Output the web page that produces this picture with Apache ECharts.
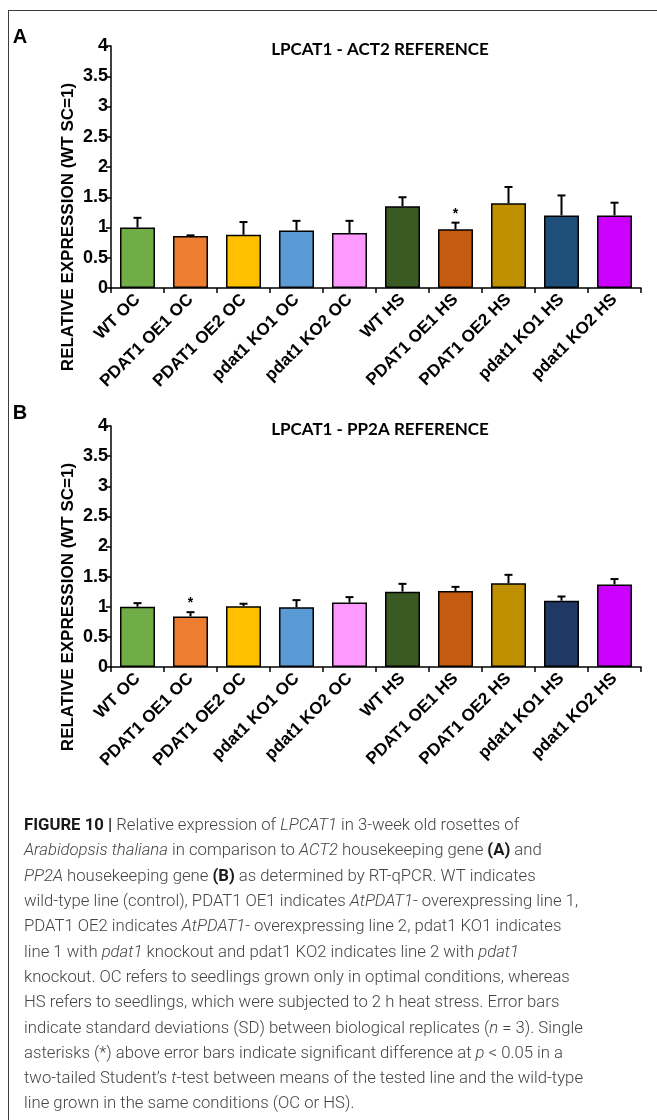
<!DOCTYPE html>
<html>
<head>
<meta charset="utf-8">
<script src="https://cdn.jsdelivr.net/npm/echarts@6/dist/echarts.min.js"></script>
<style>
  html, body { margin: 0; padding: 0; background: #fff; }
  #chart { width: 657px; height: 1120px; }
  #frame { position: absolute; left: 8px; top: 10px; right: 0; bottom: 0;
           border-left: 1.5px solid #3c3c3c; border-top: 1.5px solid #3c3c3c; pointer-events: none; }
</style>
</head>
<body>
<div id="chart"></div>
<div id="frame"></div>
<script>
// Plant lines under optimal conditions (OC) and heat stress (HS)
const categories = [
  'WT OC', 'PDAT1 OE1 OC', 'PDAT1 OE2 OC', 'pdat1 KO1 OC', 'pdat1 KO2 OC',
  'WT HS', 'PDAT1 OE1 HS', 'PDAT1 OE2 HS', 'pdat1 KO1 HS', 'pdat1 KO2 HS'
];

// Relative LPCAT1 expression, ACT2 as reference gene (mean and SD)
const act2Mean = [1.00, 0.86, 0.88, 0.95, 0.91, 1.35, 0.97, 1.40, 1.20, 1.20];
const act2Sd   = [0.16, 0.01, 0.21, 0.16, 0.20, 0.15, 0.11, 0.27, 0.33, 0.21];
const act2Sig  = [false, false, false, false, false, false, true, false, false, false];

// Relative LPCAT1 expression, PP2A as reference gene (mean and SD)
const pp2aMean = [1.00, 0.84, 1.01, 0.99, 1.07, 1.25, 1.26, 1.39, 1.10, 1.37];
const pp2aSd   = [0.06, 0.07, 0.04, 0.12, 0.09, 0.13, 0.07, 0.14, 0.07, 0.09];
const pp2aSig  = [false, true, false, false, false, false, false, false, false, false];

// Value axis range
const yMin = 0, yMax = 4, yStep = 0.5;

// Bar fill colours per line
const colorsA = ['#70AD47', '#ED7D31', '#FFC000', '#5B9BD5', '#FF99FF',
                 '#3A5A24', '#C55A11', '#BF9000', '#1F4E79', '#CC00FF'];
const colorsB = ['#70AD47', '#ED7D31', '#FFC000', '#5B9BD5', '#FF99FF',
                 '#3A5A24', '#C55A11', '#BF9000', '#203864', '#CC00FF'];

const AXIS_FONT = '"Liberation Sans", Arial, sans-serif';

function xAxisFor(gridIndex) {
  return {
    type: 'category', gridIndex, data: categories,
    axisLine: { show: true, lineStyle: { color: '#000', width: 1.5 } },
    axisTick: { show: true, length: 5, lineStyle: { color: '#000', width: 1.5 } },
    axisLabel: { interval: 0, rotate: 45, margin: 9, color: '#000',
                 fontFamily: AXIS_FONT, fontWeight: 'bold', fontSize: 17 },
    splitLine: { show: false }
  };
}

function yAxisFor(gridIndex) {
  return {
    type: 'value', gridIndex, min: yMin, max: yMax, interval: yStep,
    axisLine: { show: true, lineStyle: { color: '#000', width: 1.5 } },
    axisTick: { show: true, length: 5, lineStyle: { color: '#000', width: 1.5 } },
    axisLabel: { margin: 3, color: '#000', fontFamily: AXIS_FONT, fontWeight: 'bold', fontSize: 18 },
    splitLine: { show: false }
  };
}

function barSeries(idx, means, colors) {
  return {
    type: 'bar', xAxisIndex: idx, yAxisIndex: idx, barWidth: '66%',
    data: means.map((v, i) => ({ value: v, itemStyle: { color: colors[i] } })),
    itemStyle: { borderColor: '#000', borderWidth: 1.5 },
    z: 2
  };
}

// Error bars (upper half) with an optional significance asterisk
function errorSeries(idx, means, sds, sig) {
  return {
    type: 'custom', xAxisIndex: idx, yAxisIndex: idx, z: 5,
    data: means.map((m, i) => [i, m, m + sds[i], sig[i] ? 1 : 0]),
    encode: { x: 0, y: [1, 2] },
    renderItem(params, api) {
      const i = api.value(0);
      const base = api.coord([i, api.value(1)]);
      const top = api.coord([i, api.value(2)]);
      const cap = 4;
      const children = [
        { type: 'line', shape: { x1: base[0], y1: base[1], x2: top[0], y2: top[1] },
          style: { stroke: '#000', lineWidth: 2 } },
        { type: 'line', shape: { x1: top[0] - cap, y1: top[1], x2: top[0] + cap, y2: top[1] },
          style: { stroke: '#000', lineWidth: 2 } }
      ];
      if (api.value(3)) {
        children.push({ type: 'text', x: top[0], y: top[1] - 2,
          style: { text: '*', fill: '#000', font: 'bold 14px ' + AXIS_FONT,
                   align: 'center', verticalAlign: 'bottom',
                   textAlign: 'center', textVerticalAlign: 'bottom' } });
      }
      return { type: 'group', children };
    }
  };
}

function label(text, x, y, font, extra) {
  return Object.assign({
    type: 'text', x, y, silent: true,
    style: { text, font, fill: '#000', align: 'center', verticalAlign: 'middle',
             textAlign: 'center', textVerticalAlign: 'middle' }
  }, extra || {});
}

const yName = 'RELATIVE EXPRESSION (WT SC=1)';
const yNameFont = 'bold 17px ' + AXIS_FONT;
const titleFont = 'bold 17px Lato, "Liberation Sans", sans-serif';
const letterFont = 'bold 20px ' + AXIS_FONT;

// Figure legend text, one entry per printed line
const captionLines = [
  '{b|FIGURE 10 |} Relative expression of {i|LPCAT1} in 3-week old rosettes of',
  '{i|Arabidopsis thaliana} in comparison to {i|ACT2} housekeeping gene {b|(A)} and',
  '{i|PP2A} housekeeping gene {b|(B)} as determined by RT-qPCR. WT indicates',
  'wild-type line (control), PDAT1 OE1 indicates {i|AtPDAT1}- overexpressing line 1,',
  'PDAT1 OE2 indicates {i|AtPDAT1}- overexpressing line 2, pdat1 KO1 indicates',
  'line 1 with {i|pdat1} knockout and pdat1 KO2 indicates line 2 with {i|pdat1}',
  'knockout. OC refers to seedlings grown only in optimal conditions, whereas',
  'HS refers to seedlings, which were subjected to 2 h heat stress. Error bars',
  'indicate standard deviations (SD) between biological replicates ({i|n} = 3). Single',
  'asterisks (*) above error bars indicate significant difference at {i|p} < 0.05 in a',
  'two-tailed Student\u2019s {i|t}-test between means of the tested line and the wild-type',
  'line grown in the same conditions (OC or HS).'
];

const captionFont = 'Roboto, "Liberation Sans", sans-serif';
const capSize = 16.7;
const captionElems = captionLines.map((t, k) => ({
  type: 'text', x: 24, y: 826 + k * 25.3, silent: true,
  style: {
    text: t, fill: '#444', fontFamily: captionFont, fontSize: capSize, fontWeight: 300,
    align: 'left', verticalAlign: 'middle', textAlign: 'left', textVerticalAlign: 'middle',
    rich: {
      b: { fill: '#1a1a1a', fontFamily: captionFont, fontSize: capSize, fontWeight: 'bold' },
      i: { fill: '#444', fontFamily: captionFont, fontSize: capSize, fontWeight: 300, fontStyle: 'italic' }
    }
  }
}));

const chart = echarts.init(document.getElementById('chart'), null, { renderer: 'canvas' });
chart.setOption({
  animation: false,
  backgroundColor: '#fff',
  grid: [
    { left: 111, right: 16, top: 46, height: 242 },
    { left: 111, right: 16, top: 426, height: 241 }
  ],
  xAxis: [xAxisFor(0), xAxisFor(1)],
  yAxis: [yAxisFor(0), yAxisFor(1)],
  series: [
    barSeries(0, act2Mean, colorsA),
    errorSeries(0, act2Mean, act2Sd, act2Sig),
    barSeries(1, pp2aMean, colorsB),
    errorSeries(1, pp2aMean, pp2aSd, pp2aSig)
  ],
  graphic: [
    label('A', 20, 37, letterFont),
    label('B', 20, 413, letterFont),
    label('LPCAT1 - ACT2 REFERENCE', 380, 50, titleFont),
    label('LPCAT1 - PP2A REFERENCE', 380, 430, titleFont),
    label(yName, 68, 227, yNameFont, { rotation: Math.PI / 2 }),
    label(yName, 68, 607, yNameFont, { rotation: Math.PI / 2 })
  ].concat(captionElems)
});
</script>
</body>
</html>
